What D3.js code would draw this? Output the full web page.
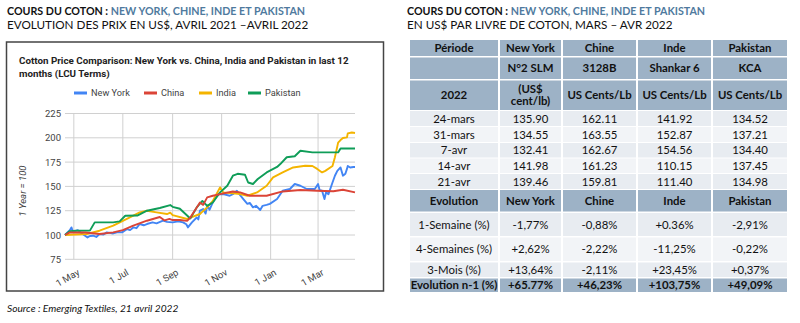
<!DOCTYPE html>
<html><head><meta charset="utf-8">
<script src="https://cdn.jsdelivr.net/npm/d3@7"></script>
<style>body{margin:0;background:#fff}svg{display:block}</style>
</head><body>
<svg id="c" width="800" height="323"></svg>
<script>
// ---------------- DATA ----------------
const seriesNames = ["New York", "China", "India", "Pakistan"];
const newYork = [["2021-04-20",100],["2021-04-26",105],["2021-04-28",107.8],["2021-04-30",103],["2021-05-02",104],["2021-05-06",105],["2021-05-11",101.6],["2021-05-15",99.3],["2021-05-18",97.5],["2021-05-21",99],["2021-05-25",99.3],["2021-05-29",98],["2021-06-02",101],["2021-06-07",100.5],["2021-06-11",102.7],["2021-06-19",101.6],["2021-06-25",103],["2021-06-30",102.7],["2021-07-06",106],["2021-07-10",105],["2021-07-14",107.8],["2021-07-18",107],["2021-07-22",111.3],["2021-07-27",110],["2021-07-31",111.3],["2021-08-07",113],["2021-08-12",112],["2021-08-20",114.7],["2021-08-25",113.5],["2021-09-01",113],["2021-09-08",114],["2021-09-14",113],["2021-09-18",111],["2021-09-20",107.8],["2021-09-25",113],["2021-10-01",118],["2021-10-03",116],["2021-10-05",125],["2021-10-09",126.7],["2021-10-12",122],["2021-10-14",130],["2021-10-17",126],["2021-10-21",133.5],["2021-10-27",142],["2021-11-03",142],["2021-11-11",140.4],["2021-11-15",142],["2021-11-20",145.5],["2021-11-24",141],["2021-11-28",137],["2021-12-03",132],["2021-12-06",133],["2021-12-10",128.4],["2021-12-14",130],["2021-12-19",125.7],["2021-12-22",130],["2021-12-27",131],["2021-12-31",132],["2022-01-09",137],["2022-01-16",145.5],["2022-01-25",147.3],["2022-01-31",152.5],["2022-02-07",150.7],["2022-02-15",147.3],["2022-02-25",147.3],["2022-03-01",152.5],["2022-03-03",146],["2022-03-06",145.5],["2022-03-09",137],["2022-03-11",144],["2022-03-14",142],["2022-03-19",154],["2022-03-22",161],["2022-03-25",166],["2022-03-29",169.5],["2022-04-01",161],["2022-04-04",163],["2022-04-06",168],["2022-04-07",171],["2022-04-10",169.5],["2022-04-14",170],["2022-04-16",170]];
const china = [["2021-04-20",100],["2021-04-26",102.7],["2021-05-15",102.5],["2021-06-02",101],["2021-06-19",102.7],["2021-07-01",105],["2021-07-14",109.6],["2021-07-31",114.7],["2021-08-16",118.5],["2021-08-22",115],["2021-08-28",116.5],["2021-09-01",115.4],["2021-09-10",115.5],["2021-09-19",114.5],["2021-09-23",118],["2021-10-01",128.4],["2021-10-05",133.5],["2021-10-09",131],["2021-10-14",138.7],["2021-10-21",140.4],["2021-10-30",142],["2021-11-15",144.8],["2021-11-24",143.8],["2021-12-06",140.4],["2021-12-27",140.4],["2022-01-16",144.8],["2022-02-07",146.3],["2022-02-28",145.5],["2022-03-20",145],["2022-04-01",146.6],["2022-04-16",143.8]];
const india = [["2021-04-20",100],["2021-05-17",101],["2021-06-02",104.4],["2021-06-19",109.6],["2021-07-06",116.5],["2021-07-22",123.3],["2021-07-31",125],["2021-08-12",123.3],["2021-08-25",121.6],["2021-08-29",123],["2021-09-01",120.5],["2021-09-19",116.5],["2021-10-05",121.6],["2021-10-08",124],["2021-10-14",128.4],["2021-10-21",135],["2021-10-30",149],["2021-11-03",143.8],["2021-11-15",143],["2021-11-24",142],["2021-12-03",140.4],["2021-12-15",143.8],["2021-12-27",150.7],["2022-01-04",159.3],["2022-01-16",164.4],["2022-01-29",169.5],["2022-02-13",171.3],["2022-02-22",171],["2022-02-28",168],["2022-03-06",164.4],["2022-03-10",166],["2022-03-19",171],["2022-03-22",180],["2022-03-26",195],["2022-03-29",197.7],["2022-04-01",199.8],["2022-04-06",200.4],["2022-04-07",204.5],["2022-04-12",205.5],["2022-04-16",205]];
const pakistan = [["2021-04-20",100],["2021-04-26",104],["2021-05-04",104.4],["2021-05-21",104.5],["2021-05-27",113],["2021-06-19",113],["2021-06-27",114],["2021-07-04",119.8],["2021-07-19",120],["2021-07-31",125],["2021-08-16",127.8],["2021-08-29",130.8],["2021-09-01",129],["2021-09-10",127],["2021-09-23",117],["2021-10-01",128.4],["2021-10-08",135],["2021-10-14",130],["2021-10-21",133.5],["2021-10-30",143.8],["2021-11-08",150.7],["2021-11-15",161],["2021-11-21",163],["2021-11-30",162],["2021-12-04",154],["2021-12-10",152.5],["2021-12-16",157.6],["2021-12-27",164.4],["2022-01-09",170],["2022-01-13",173],["2022-01-21",180],["2022-01-31",181],["2022-02-07",186.7],["2022-02-22",185],["2022-03-26",185],["2022-03-29",189],["2022-04-16",189]];
const yTicks = [75, 100, 125, 150, 175, 200, 225];
const xTicks = ["2021-05-01","2021-07-01","2021-09-01","2021-11-01","2022-01-01","2022-03-01"];

const tableColumns = ["Période", "New York", "Chine", "Inde", "Pakistan"];
const tableGrades = ["", "N°2 SLM", "3128B", "Shankar 6", "KCA"];
const tableUnits = ["2022", "(US$|cent/lb)", "US Cents/Lb", "US Cents/Lb", "US Cents/Lb"];
const priceDates = ["24-mars", "31-mars", "7-avr", "14-avr", "21-avr"];
const priceNewYork = ["135.90", "134.55", "132.41", "141.98", "139.46"];
const priceChine = ["162.11", "163.55", "162.67", "161.23", "159.81"];
const priceInde = ["141.92", "152.87", "154.56", "110.15", "111.40"];
const pricePakistan = ["134.52", "137.21", "134.40", "137.45", "134.98"];
const evolutionHeader = ["Evolution", "New York", "Chine", "Inde", "Pakistan"];
const evolutionLabels = ["1-Semaine (%)", "4-Semaines (%)", "3-Mois (%)", "Evolution n-1 (%)"];
const evoNewYork = ["-1,77%", "+2,62%", "+13,64%", "+65.77%"];
const evoChine = ["-0,88%", "-2,22%", "-2,11%", "+46,23%"];
const evoInde = ["+0.36%", "-11,25%", "+23,45%", "+103,75%"];
const evoPakistan = ["-2,91%", "-0,22%", "+0,37%", "+49,09%"];

// ---------------- DRAW ----------------
const svg = d3.select("#c");
const parse = d3.timeParse("%Y-%m-%d");
const titleFont = "Lato, 'Open Sans', sans-serif";
const chartFont = "Roboto, Arial, sans-serif";
const blueTitle = "#4f7a9e";

function titleBlock(x, y1, y2, sub) {
  const t = svg.append("text").attr("x", x).attr("y", y1)
    .attr("font-family", titleFont).attr("font-size", 10.7).attr("font-weight", "bold");
  t.append("tspan").attr("fill", "#111").text("COURS DU COTON : ");
  t.append("tspan").attr("fill", blueTitle).text("NEW YORK, CHINE, INDE ET PAKISTAN");
  svg.append("text").attr("x", x).attr("y", y2).attr("font-family", titleFont)
    .attr("font-size", 11.7).attr("fill", "#111").text(sub);
}
titleBlock(7, 15, 29, "EVOLUTION DES PRIX EN US$, AVRIL 2021 \u2013AVRIL 2022");
titleBlock(407, 15, 29, "EN US$ PAR LIVRE DE COTON, MARS \u2013 AVR 2022");

// chart frame
svg.append("rect").attr("x", 6.5).attr("y", 42).attr("width", 377).attr("height", 249)
  .attr("fill", "#fff").attr("stroke", "#444").attr("stroke-width", 1.5);

svg.append("text").attr("x", 19).attr("y", 64).attr("font-family", chartFont)
  .attr("font-size", 9.8).attr("font-weight", "bold").attr("fill", "#222")
  .text("Cotton Price Comparison: New York vs. China, India and Pakistan in last 12");
svg.append("text").attr("x", 19).attr("y", 77).attr("font-family", chartFont)
  .attr("font-size", 9.8).attr("font-weight", "bold").attr("fill", "#222")
  .text("months (LCU Terms)");

const colors = ["#4285f4", "#db4437", "#f4b400", "#0f9d58"];
const allSeries = [newYork, china, india, pakistan].map(s => s.map(d => ({date: parse(d[0]), v: d[1]})));

const x = d3.scaleTime().domain([parse("2021-04-20"), parse("2022-04-16")]).range([65, 355]);
const y = d3.scaleLinear().domain([75, 225]).range([259.3, 113.5]);

// grid
const g = svg.append("g");
g.selectAll("line.h").data(yTicks).join("line")
  .attr("x1", 65).attr("x2", 355).attr("y1", d => y(d)).attr("y2", d => y(d))
  .attr("stroke", "#d0d0d0").attr("stroke-width", 1);
g.selectAll("line.v").data(xTicks).join("line")
  .attr("x1", d => x(parse(d))).attr("x2", d => x(parse(d)))
  .attr("y1", y(225)).attr("y2", y(75)).attr("stroke", "#d0d0d0").attr("stroke-width", 1);

// y axis
const ya = svg.append("g").attr("transform", "translate(65,0)")
  .call(d3.axisLeft(y).tickValues(yTicks).tickSize(0).tickPadding(4));
ya.select(".domain").remove();
ya.selectAll("text").attr("font-family", chartFont).attr("font-size", 9.5).attr("fill", "#444");

// x axis
const xa = svg.append("g").attr("transform", `translate(0,${y(75)})`)
  .call(d3.axisBottom(x).tickValues(xTicks.map(parse)).tickFormat(d3.timeFormat("%-d %b")).tickSize(0));
xa.select(".domain").remove();
xa.selectAll("text").attr("font-family", chartFont).attr("font-size", 9.5).attr("fill", "#444")
  .attr("text-anchor", "end").attr("dy", 0).attr("y", 0)
  .attr("transform", "translate(6,15) rotate(-30)");

// y title
svg.append("text").attr("transform", "translate(26,191) rotate(-90)")
  .attr("text-anchor", "middle").attr("font-family", chartFont).attr("font-size", 9.5)
  .attr("font-style", "italic").attr("fill", "#444").text("1 Year = 100");

// lines
const line = d3.line().x(d => x(d.date)).y(d => y(d.v));
const order = [0, 2, 3, 1];
svg.append("g").selectAll("path").data(order).join("path")
  .attr("d", i => line(allSeries[i])).attr("fill", "none")
  .attr("stroke", i => colors[i]).attr("stroke-width", 1.9).attr("stroke-linejoin", "round");

// legend
const legX = [74, 144, 199, 248];
const leg = svg.append("g").selectAll("g").data(seriesNames).join("g")
  .attr("transform", (d, i) => `translate(${legX[i]},93)`);
leg.append("line").attr("x1", 0).attr("x2", 13).attr("stroke", (d, i) => colors[i]).attr("stroke-width", 3);
leg.append("text").attr("x", 17).attr("y", 3.3).attr("font-family", chartFont)
  .attr("font-size", 9.2).attr("fill", "#444").text(d => d);

// source
svg.append("text").attr("x", 7).attr("y", 312).attr("font-family", titleFont)
  .attr("font-size", 10.2).attr("font-style", "italic").attr("fill", "#111")
  .text("Source : Emerging Textiles, 21 avril 2022");

// ---------------- TABLE ----------------
const colX = [410, 500, 563, 638, 713];
const colW = [88, 61, 73, 73, 74];
const headBg = "#9db2c6";
const rows = [];
rows.push({cells: tableColumns, y0: 40, y1: 56, bold: true, bg: headBg});
rows.push({cells: tableGrades, y0: 57.5, y1: 79, bold: true, bg: headBg});
rows.push({cells: tableUnits, y0: 80.5, y1: 110, bold: true, bg: headBg});
const dRows = [[111, 126], [127, 142], [143, 157.5], [158.5, 173], [174, 189]];
priceDates.forEach((d, i) => rows.push({cells: [d, priceNewYork[i], priceChine[i], priceInde[i], pricePakistan[i]],
  y0: dRows[i][0], y1: dRows[i][1], bold: false, bg: i % 2 ? "#f2f4f7" : "#e8ecf1"}));
rows.push({cells: evolutionHeader, y0: 190, y1: 211.5, bold: true, bg: headBg});
const eRows = [[213, 236], [237.5, 261], [262.5, 277], [278.5, 292]];
evolutionLabels.forEach((d, i) => rows.push({cells: [d, evoNewYork[i], evoChine[i], evoInde[i], evoPakistan[i]],
  y0: eRows[i][0], y1: eRows[i][1], bold: i === 3, bg: i === 3 ? headBg : (i % 2 ? "#f2f4f7" : "#e8ecf1")}));

const tg = svg.append("g");
rows.forEach(r => {
  r.cells.forEach((c, j) => {
    tg.append("rect").attr("x", colX[j]).attr("y", r.y0).attr("width", colW[j]).attr("height", r.y1 - r.y0)
      .attr("fill", r.bg);
    const parts = c.split("|");
    const cy = (r.y0 + r.y1) / 2;
    parts.forEach((p, k) => {
      tg.append("text").attr("x", colX[j] + colW[j] / 2)
        .attr("y", cy + (k - (parts.length - 1) / 2) * 12 + 4)
        .attr("text-anchor", "middle").attr("font-family", titleFont).attr("font-size", 11.4)
        .attr("font-weight", r.bold ? "bold" : "normal").attr("fill", "#111").text(p);
    });
  });
});
</script>
</body></html>
